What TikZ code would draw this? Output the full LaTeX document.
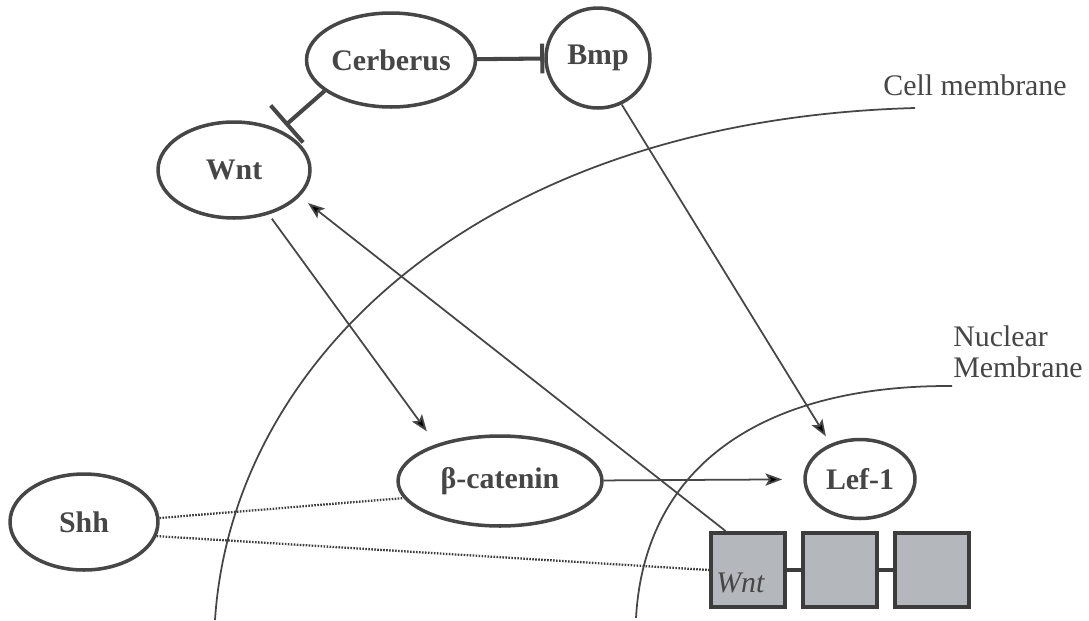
\documentclass[tikz,border=0pt]{standalone}
\usepackage{fontspec}
\setmainfont{Liberation Serif}
\usetikzlibrary{arrows,arrows.meta,shapes.geometric}
\definecolor{inkgray}{HTML}{464646}
\definecolor{boxgray}{HTML}{B4B7BB}

\begin{document}
\begin{tikzpicture}[x=0.02cm,y=-0.02cm,>={Stealth[length=9.5pt,width=7pt,inset=2pt]},
  mol node/.style={ellipse,draw=inkgray,line width=2pt,inner sep=0pt,
    font=\fontsize{17}{20}\selectfont\bfseries,text=inkgray},
  gene box/.style={rectangle,draw=inkgray!85!black,line width=2.4pt,fill=boxgray,
    minimum width=1.48cm,minimum height=1.48cm,inner sep=0pt},
  memb text/.style={font=\fontsize{17}{18}\selectfont,text=inkgray,align=left,inner sep=0pt},
  thin line/.style={draw=inkgray,line width=1pt},
  inhibit/.style={draw=inkgray,line width=2.3pt,-{Bar[width=17pt]}},
  weak link/.style={draw=inkgray!85!black,line width=1.3pt,dash pattern=on 0.9pt off 0.8pt},
  box link/.style={draw=inkgray!85!black,line width=2.6pt}]
  \fill[white] (0,0) rectangle (1089,620);
  \useasboundingbox (0,0) rectangle (1089,620);

  \draw[thin line] (215,620) .. controls (232,360) and (480,120) .. (915,108);
  \draw[thin line] (636,618) .. controls (645,460) and (770,385) .. (952,386);
  \node[memb text,anchor=base west] (celllbl) at (883,95) {Cell membrane};
  \node[memb text,anchor=north west] (nuclbl) at (953,325) {Nuclear\\Membrane};

  \node[mol node,minimum width=3.36cm,minimum height=1.88cm] (cerb) at (391,60)  {Cerberus};
  \node[mol node,minimum width=2.08cm,minimum height=2cm]    (bmp)  at (598,58)  {Bmp};
  \node[mol node,minimum width=3.04cm,minimum height=1.92cm] (wnt)  at (234,170) {Wnt};
  \node[mol node,minimum width=4.08cm,minimum height=1.8cm]  (bcat) at (500,481) {β-catenin};
  \node[mol node,minimum width=2.2cm,minimum height=1.58cm]  (lef)  at (860,479) {Lef-1};
  \node[mol node,minimum width=2.96cm,minimum height=1.92cm] (shh)  at (84,522)  {Shh};
  \node[gene box] (box1) at (748,570) {};
  \node[gene box] (box2) at (840,570) {};
  \node[gene box] (box3) at (932,570) {};
  \node[font=\fontsize{17}{20}\selectfont\itshape,text=inkgray,anchor=base west,inner sep=0pt]
    (wntgene) at (716,592) {Wnt};

  \path (cerb) edge[inhibit] (bmp)
    (cerb.205) edge[inhibit,-{Bar[width=28pt]},shorten >=4pt] (wnt.41);
  \path[thin line]
    (bmp.-63) edge[->,shorten >=5pt] (lef.130)
    (wnt.-52) edge[->,shorten <=3pt,shorten >=9pt] (bcat.150)
    (bcat) edge[->,shorten >=12pt] (lef)
    (box1.120) edge[->,shorten >=6pt] (wnt.-22);
  \path[weak link]
    (shh.3) edge (bcat.190)
    (shh.-11) edge (box1.west);
  \path[box link]
    (box1) edge (box2)
    (box2) edge (box3);
\end{tikzpicture}
\end{document}
